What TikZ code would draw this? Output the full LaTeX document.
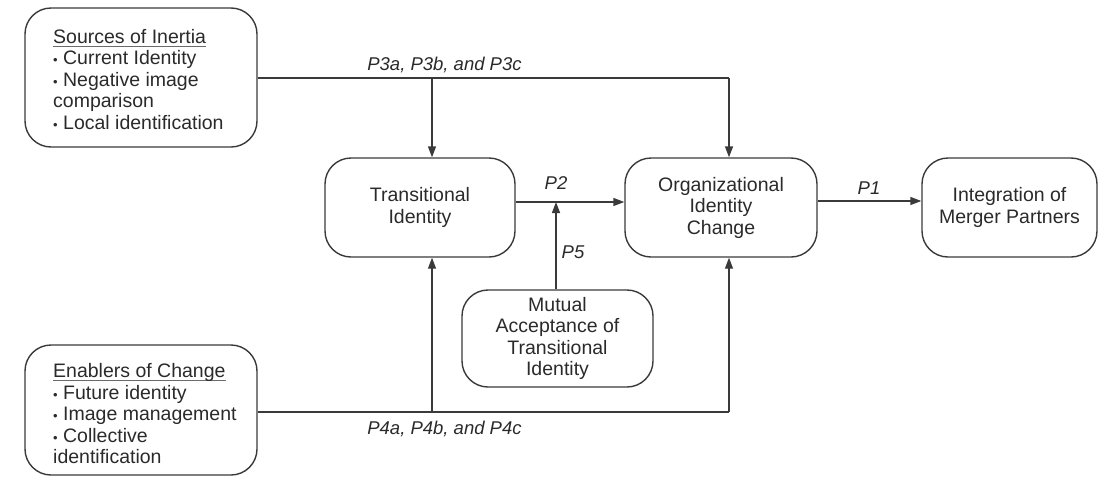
\documentclass[tikz,border=0pt]{standalone}
\usepackage{fontspec}
\setmainfont{Liberation Sans}
\usetikzlibrary{arrows.meta,calc}
\definecolor{ln}{HTML}{3A3A3A}
\definecolor{tx}{HTML}{2A2A2A}
\definecolor{ulc}{HTML}{6A6A6A}
\newcommand\myul[1]{\setbox0\hbox{#1}\rlap{\smash{\color{ulc}\rule[-3.5pt]{\wd0}{1.4pt}}}\box0}
\newcommand\bul{{\fontsize{13}{13}\selectfont •}}
\tikzset{
  box/.style={draw=ln, line width=1.4pt, rounded corners=26pt, align=center,
    text=tx, font=\fontsize{19.5}{21.5}\selectfont, inner sep=0pt},
  lbox/.style={box, align=left},
  ltext/.style={anchor=west, text=tx, font=\fontsize{19.5}{21.5}\selectfont, align=left, inner sep=0pt},
  conn/.style={draw=ln, line width=1.4pt},
  arr/.style={conn, -{Triangle[length=11pt,width=8pt]}},
  plab/.style={text=tx, font=\fontsize{18.5}{20}\selectfont\itshape, inner sep=0pt}
}
\begin{document}
\begin{tikzpicture}[x=1pt,y=-1pt]
\useasboundingbox (0,0) rectangle (1100,477);
\node[lbox, minimum width=232pt, minimum height=139pt] (src) at (141,77.5) {};
\node[ltext] (srct) at (53,79.5)
  {\myul{Sources of Inertia}\\\bul\ Current Identity\\\bul\ Negative image\\comparison\\\bul\ Local identification};
\node[lbox, minimum width=232pt, minimum height=130pt] (enab) at (141,410) {};
\node[ltext] (enabt) at (53,414)
  {\myul{Enablers of Change}\\\bul\ Future identity\\\bul\ Image management\\\bul\ Collective\\identification};
\node[box, minimum width=190pt, minimum height=99pt] (trans) at (420,207.5) {Transitional\\Identity};
\node[box, minimum width=192pt, minimum height=99pt] (org) at (721,207.5) {Organizational\\Identity\\Change};
\node[box, minimum width=175pt, minimum height=99pt] (integ) at (1009.5,207.5) {Integration of\\Merger Partners};
\node[box, minimum width=191pt, minimum height=97pt] (mutual) at (557.5,338.5) {Mutual\\Acceptance of\\Transitional\\Identity};

\coordinate (j3) at (432,78);
\coordinate (e3) at (729,78);
\coordinate (j4) at (432,412);
\coordinate (e4) at (729,412);
\coordinate (p5) at (556,202);

\draw[conn] (src.east |- j3) -- (e3);
\draw[arr] (j3) -- (j3 |- trans.north);
\draw[arr] (e3) -- (e3 |- org.north);
\draw[conn] (enab.east |- j4) -- (e4);
\draw[arr] (j4) -- (j4 |- trans.south);
\draw[arr] (e4) -- (e4 |- org.south);
\draw[arr] (trans.east |- p5) -- (org.west |- p5);
\draw[arr] (mutual.north -| p5) -- (p5);
\draw[arr] ([yshift=6.5pt]org.east) -- ([yshift=6.5pt]integ.west);

\node[plab] (l3) at (444.5,65) {P3a, P3b, and P3c};
\node[plab] (l4) at (444.5,429) {P4a, P4b, and P4c};
\node[plab] (l2) at (556,183) {P2};
\node[plab] (l5) at (573,252) {P5};
\node[plab] (l1) at (869,188) {P1};
\end{tikzpicture}
\end{document}
